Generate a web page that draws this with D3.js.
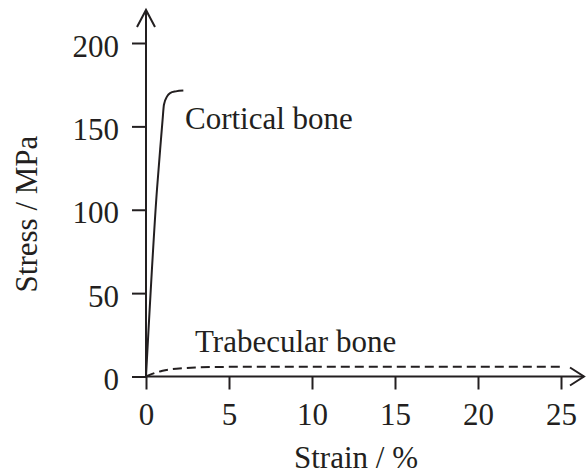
<!DOCTYPE html>
<html>
<head>
<meta charset="utf-8">
<script src="https://cdn.jsdelivr.net/npm/d3@7"></script>
<style>
  html, body { margin: 0; padding: 0; background: #fff; }
  svg { display: block; }
</style>
</head>
<body>
<svg id="chart" width="586" height="475"></svg>
<script>
// ---- data ----
const xTicks = [0, 5, 10, 15, 20, 25];
const yTicks = [0, 50, 100, 150, 200];
const corticalStrain = [0, 0.66, 0.90, 1.0, 1.08, 1.27, 1.45, 1.8, 2.25];
const corticalStress = [0, 112, 142, 154, 163, 168, 170, 171, 171.5];
const trabecularStrain = [0, 0.5, 1, 2, 3, 4, 6, 10, 15, 20, 25];
const trabecularStress = [0, 2, 3.5, 4.8, 5.4, 5.7, 5.8, 5.8, 5.8, 5.8, 5.8];
const seriesNames = ["Cortical bone", "Trabecular bone"];
const xLabel = "Strain / %";
const yLabel = "Stress / MPa";

// ---- layout ----
const FONT = "'Liberation Serif'";
const svg = d3.select("#chart");
const x = d3.scaleLinear().domain([0, 25]).range([146, 561]);
const y = d3.scaleLinear().domain([0, 200]).range([376.5, 43]);
const ink = "#231f20";
const fs = 31;

function serif(sel) {
  return sel.attr("font-family", "Liberation Serif").style("font-family", FONT);
}

// axes (ticks)
const gx = svg.append("g").attr("transform", `translate(0,${y(0)})`)
  .call(d3.axisBottom(x).tickValues(xTicks).tickSize(13).tickPadding(13).tickFormat(d3.format("d")));
gx.attr("font-family", null).attr("font-size", null);
gx.select(".domain").remove();
gx.selectAll(".tick line").attr("stroke", ink).attr("stroke-width", 2);
serif(gx.selectAll(".tick text")).attr("font-size", fs).attr("fill", ink);

const gy = svg.append("g").attr("transform", `translate(${x(0)},0)`)
  .call(d3.axisLeft(y).tickValues(yTicks).tickSize(14).tickPadding(13).tickFormat(d3.format("d")));
gy.attr("font-family", null).attr("font-size", null);
gy.select(".domain").remove();
gy.selectAll(".tick line").attr("stroke", ink).attr("stroke-width", 2);
serif(gy.selectAll(".tick text")).attr("font-size", fs).attr("dy", "0.42em").attr("fill", ink);

// axis lines with arrows
const axisG = svg.append("g").attr("stroke", ink).attr("stroke-width", 2).attr("fill", "none");
axisG.append("line").attr("x1", x(0)).attr("x2", x(0)).attr("y1", y(0)).attr("y2", 10);
axisG.append("path").attr("d", `M${x(0) - 9},27 L${x(0)},10 L${x(0) + 9},27`);
axisG.append("line").attr("x1", x(0)).attr("x2", 584).attr("y1", y(0)).attr("y2", y(0));
axisG.append("path").attr("d", `M570,${y(0) - 9} L584,${y(0)} L570,${y(0) + 9}`);

// curves
const line = d3.line().x(d => x(d[0])).y(d => y(d[1])).curve(d3.curveMonotoneX);
const cortical = corticalStrain.map((s, i) => [s, corticalStress[i]]);
const trabecular = trabecularStrain.map((s, i) => [s, trabecularStress[i]]);

svg.append("path").datum(cortical).attr("d", line)
  .attr("fill", "none").attr("stroke", ink).attr("stroke-width", 2);
svg.append("path").datum(trabecular).attr("d", line)
  .attr("fill", "none").attr("stroke", ink).attr("stroke-width", 2)
  .attr("stroke-dasharray", "9,5");

// series labels
serif(svg.append("text")).attr("x", 185).attr("y", 129).attr("font-size", fs)
  .attr("fill", ink).text(seriesNames[0]);
serif(svg.append("text")).attr("x", 195).attr("y", 352).attr("font-size", fs)
  .attr("fill", ink).text(seriesNames[1]);

// axis titles
serif(svg.append("text")).attr("x", 356).attr("y", 468).attr("text-anchor", "middle")
  .attr("font-size", fs).attr("fill", ink).text(xLabel);
serif(svg.append("text")).attr("transform", "translate(37,214) rotate(-90)")
  .attr("text-anchor", "middle").attr("font-size", fs)
  .attr("fill", ink).text(yLabel);
</script>
</body>
</html>
